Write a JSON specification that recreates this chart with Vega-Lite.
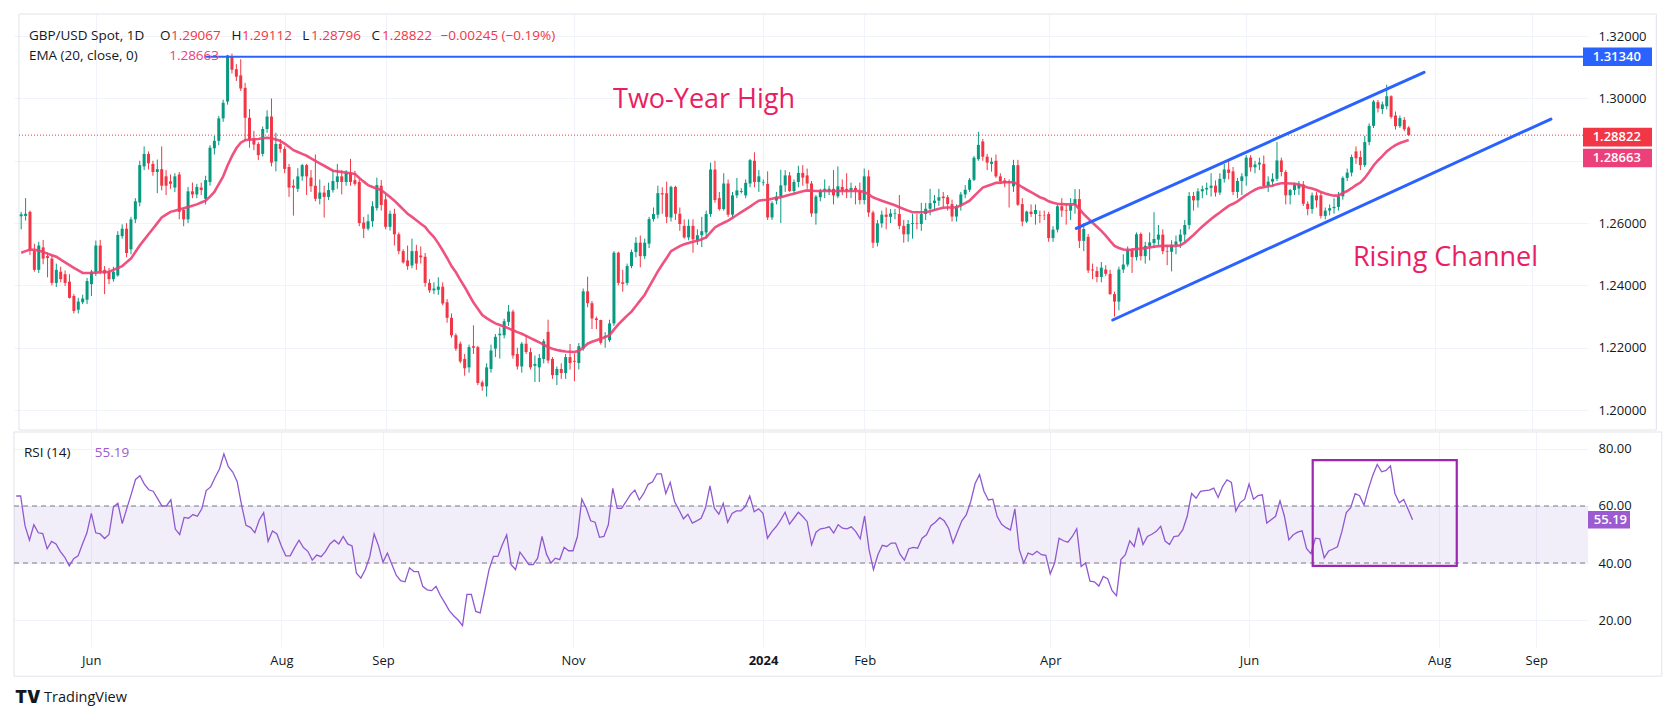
{
"$schema":"https://vega.github.io/schema/vega-lite/v6.json",
"background":"white",
"padding":{"left":13,"top":13,"right":0,"bottom":0},
"spacing":0,
"config":{"view":{"stroke":null},"font":"Open Sans","text":{"font":"Open Sans"},"axis":{"labelFont":"Open Sans","labelColor":"#131722"}},
"datasets":{"c":[
{"i":0,"o":1.2622,"h":1.2636,"l":1.2580,"c":1.2628,"e":1.2505,"r":63.5},
{"i":1,"o":1.2623,"h":1.2680,"l":1.2608,"c":1.2630,"e":1.2510,"r":63.5},
{"i":2,"o":1.2636,"h":1.2640,"l":1.2498,"c":1.2516,"e":1.2515,"r":53},
{"i":3,"o":1.2510,"h":1.2534,"l":1.2444,"c":1.2450,"e":1.2514,"r":48},
{"i":4,"o":1.2450,"h":1.2540,"l":1.2440,"c":1.2528,"e":1.2512,"r":53.4},
{"i":5,"o":1.2522,"h":1.2546,"l":1.2468,"c":1.2486,"e":1.2507,"r":50.6},
{"i":6,"o":1.2494,"h":1.2506,"l":1.2426,"c":1.2488,"e":1.2502,"r":50.3},
{"i":7,"o":1.2486,"h":1.2496,"l":1.2400,"c":1.2408,"e":1.2497,"r":45},
{"i":8,"o":1.2408,"h":1.2470,"l":1.2395,"c":1.2450,"e":1.2492,"r":47.6},
{"i":9,"o":1.2444,"h":1.2460,"l":1.2410,"c":1.2420,"e":1.2483,"r":46.7},
{"i":10,"o":1.2436,"h":1.2448,"l":1.2398,"c":1.2408,"e":1.2474,"r":44},
{"i":11,"o":1.2412,"h":1.2436,"l":1.2358,"c":1.2360,"e":1.2465,"r":42},
{"i":12,"o":1.2366,"h":1.2372,"l":1.2310,"c":1.2318,"e":1.2456,"r":39},
{"i":13,"o":1.2322,"h":1.2360,"l":1.2310,"c":1.2348,"e":1.2448,"r":41.5},
{"i":14,"o":1.2346,"h":1.2370,"l":1.2340,"c":1.2358,"e":1.2440,"r":42.5},
{"i":15,"o":1.2354,"h":1.2424,"l":1.2340,"c":1.2414,"e":1.2440,"r":46.7},
{"i":16,"o":1.2404,"h":1.2450,"l":1.2366,"c":1.2444,"e":1.2440,"r":50.6},
{"i":17,"o":1.2444,"h":1.2544,"l":1.2430,"c":1.2528,"e":1.2441,"r":57.4},
{"i":18,"o":1.2528,"h":1.2546,"l":1.2436,"c":1.2444,"e":1.2442,"r":50.6},
{"i":19,"o":1.2450,"h":1.2462,"l":1.2372,"c":1.2438,"e":1.2443,"r":50.2},
{"i":20,"o":1.2444,"h":1.2456,"l":1.2404,"c":1.2420,"e":1.2444,"r":48.6},
{"i":21,"o":1.2420,"h":1.2460,"l":1.2412,"c":1.2444,"e":1.2450,"r":50},
{"i":22,"o":1.2432,"h":1.2574,"l":1.2428,"c":1.2562,"e":1.2456,"r":59.6},
{"i":23,"o":1.2558,"h":1.2596,"l":1.2550,"c":1.2582,"e":1.2462,"r":61},
{"i":24,"o":1.2582,"h":1.2600,"l":1.2490,"c":1.2504,"e":1.2474,"r":53.8},
{"i":25,"o":1.2516,"h":1.2620,"l":1.2500,"c":1.2612,"e":1.2486,"r":59},
{"i":26,"o":1.2612,"h":1.2680,"l":1.2600,"c":1.2670,"e":1.2507,"r":64},
{"i":27,"o":1.2666,"h":1.2800,"l":1.2654,"c":1.2786,"e":1.2528,"r":69.3},
{"i":28,"o":1.2782,"h":1.2846,"l":1.2770,"c":1.2822,"e":1.2546,"r":70.6},
{"i":29,"o":1.2822,"h":1.2830,"l":1.2772,"c":1.2792,"e":1.2564,"r":67.7},
{"i":30,"o":1.2790,"h":1.2800,"l":1.2752,"c":1.2764,"e":1.2582,"r":65.7},
{"i":31,"o":1.2764,"h":1.2804,"l":1.2696,"c":1.2773,"e":1.2600,"r":65.2},
{"i":32,"o":1.2773,"h":1.2846,"l":1.2705,"c":1.2720,"e":1.2618,"r":62.6},
{"i":33,"o":1.2750,"h":1.2770,"l":1.2690,"c":1.2720,"e":1.2627,"r":60},
{"i":34,"o":1.2734,"h":1.2756,"l":1.2710,"c":1.2726,"e":1.2636,"r":60},
{"i":35,"o":1.2714,"h":1.2760,"l":1.2700,"c":1.2750,"e":1.2640,"r":62.2},
{"i":36,"o":1.2756,"h":1.2764,"l":1.2612,"c":1.2636,"e":1.2644,"r":51.9},
{"i":37,"o":1.2642,"h":1.2648,"l":1.2590,"c":1.2612,"e":1.2648,"r":50},
{"i":38,"o":1.2612,"h":1.2716,"l":1.2600,"c":1.2702,"e":1.2652,"r":56},
{"i":39,"o":1.2702,"h":1.2730,"l":1.2680,"c":1.2692,"e":1.2656,"r":55.7},
{"i":40,"o":1.2692,"h":1.2726,"l":1.2680,"c":1.2716,"e":1.2660,"r":57},
{"i":41,"o":1.2714,"h":1.2730,"l":1.2690,"c":1.2706,"e":1.2666,"r":56.4},
{"i":42,"o":1.2678,"h":1.2752,"l":1.2660,"c":1.2738,"e":1.2672,"r":59},
{"i":43,"o":1.2732,"h":1.2850,"l":1.2720,"c":1.2842,"e":1.2685,"r":65.4},
{"i":44,"o":1.2840,"h":1.2880,"l":1.2820,"c":1.2864,"e":1.2700,"r":66.7},
{"i":45,"o":1.2864,"h":1.2944,"l":1.2850,"c":1.2936,"e":1.2725,"r":70},
{"i":46,"o":1.2936,"h":1.2996,"l":1.2925,"c":1.2986,"e":1.2750,"r":73},
{"i":47,"o":1.2990,"h":1.3140,"l":1.2980,"c":1.3138,"e":1.2785,"r":78.3},
{"i":48,"o":1.3134,"h":1.3144,"l":1.3080,"c":1.3092,"e":1.2815,"r":73.8},
{"i":49,"o":1.3094,"h":1.3110,"l":1.3056,"c":1.3070,"e":1.2840,"r":71.9},
{"i":50,"o":1.3074,"h":1.3126,"l":1.3024,"c":1.3032,"e":1.2858,"r":68.6},
{"i":51,"o":1.3034,"h":1.3050,"l":1.2864,"c":1.2938,"e":1.2866,"r":60.3},
{"i":52,"o":1.2938,"h":1.2966,"l":1.2842,"c":1.2866,"e":1.2868,"r":53.2},
{"i":53,"o":1.2870,"h":1.2896,"l":1.2834,"c":1.2852,"e":1.2869,"r":52.5},
{"i":54,"o":1.2854,"h":1.2860,"l":1.2802,"c":1.2818,"e":1.2870,"r":50.6},
{"i":55,"o":1.2822,"h":1.2910,"l":1.2814,"c":1.2902,"e":1.2872,"r":55.1},
{"i":56,"o":1.2902,"h":1.2962,"l":1.2890,"c":1.2942,"e":1.2874,"r":57.7},
{"i":57,"o":1.2942,"h":1.3000,"l":1.2782,"c":1.2794,"e":1.2872,"r":47.6},
{"i":58,"o":1.2798,"h":1.2890,"l":1.2766,"c":1.2854,"e":1.2868,"r":51.2},
{"i":59,"o":1.2854,"h":1.2870,"l":1.2826,"c":1.2838,"e":1.2864,"r":50.2},
{"i":60,"o":1.2838,"h":1.2846,"l":1.2760,"c":1.2774,"e":1.2855,"r":46},
{"i":61,"o":1.2780,"h":1.2790,"l":1.2684,"c":1.2714,"e":1.2845,"r":42.5},
{"i":62,"o":1.2720,"h":1.2740,"l":1.2624,"c":1.2714,"e":1.2834,"r":42.5},
{"i":63,"o":1.2710,"h":1.2776,"l":1.2700,"c":1.2750,"e":1.2828,"r":45.4},
{"i":64,"o":1.2750,"h":1.2790,"l":1.2736,"c":1.2786,"e":1.2822,"r":48},
{"i":65,"o":1.2786,"h":1.2790,"l":1.2690,"c":1.2750,"e":1.2816,"r":45.4},
{"i":66,"o":1.2746,"h":1.2770,"l":1.2700,"c":1.2718,"e":1.2808,"r":44.1},
{"i":67,"o":1.2720,"h":1.2820,"l":1.2670,"c":1.2678,"e":1.2800,"r":41},
{"i":68,"o":1.2678,"h":1.2740,"l":1.2660,"c":1.2698,"e":1.2792,"r":42.8},
{"i":69,"o":1.2698,"h":1.2720,"l":1.2618,"c":1.2684,"e":1.2784,"r":42.2},
{"i":70,"o":1.2684,"h":1.2730,"l":1.2674,"c":1.2706,"e":1.2776,"r":44.1},
{"i":71,"o":1.2706,"h":1.2770,"l":1.2698,"c":1.2735,"e":1.2768,"r":46.7},
{"i":72,"o":1.2732,"h":1.2790,"l":1.2710,"c":1.2750,"e":1.2766,"r":48},
{"i":73,"o":1.2750,"h":1.2770,"l":1.2692,"c":1.2732,"e":1.2764,"r":46.7},
{"i":74,"o":1.2732,"h":1.2770,"l":1.2720,"c":1.2762,"e":1.2762,"r":49.3},
{"i":75,"o":1.2762,"h":1.2806,"l":1.2720,"c":1.2732,"e":1.2760,"r":46.7},
{"i":76,"o":1.2738,"h":1.2768,"l":1.2720,"c":1.2726,"e":1.2758,"r":46},
{"i":77,"o":1.2732,"h":1.2740,"l":1.2590,"c":1.2600,"e":1.2745,"r":36.4},
{"i":78,"o":1.2602,"h":1.2620,"l":1.2552,"c":1.2582,"e":1.2733,"r":34.7},
{"i":79,"o":1.2582,"h":1.2628,"l":1.2576,"c":1.2606,"e":1.2722,"r":37.7},
{"i":80,"o":1.2606,"h":1.2670,"l":1.2588,"c":1.2654,"e":1.2716,"r":42.2},
{"i":81,"o":1.2648,"h":1.2746,"l":1.2640,"c":1.2722,"e":1.2711,"r":50.2},
{"i":82,"o":1.2720,"h":1.2738,"l":1.2640,"c":1.2658,"e":1.2706,"r":46},
{"i":83,"o":1.2676,"h":1.2690,"l":1.2580,"c":1.2588,"e":1.2695,"r":40.3},
{"i":84,"o":1.2588,"h":1.2640,"l":1.2576,"c":1.2630,"e":1.2684,"r":43.5},
{"i":85,"o":1.2630,"h":1.2646,"l":1.2528,"c":1.2564,"e":1.2672,"r":39.6},
{"i":86,"o":1.2564,"h":1.2570,"l":1.2500,"c":1.2510,"e":1.2658,"r":35.7},
{"i":87,"o":1.2510,"h":1.2516,"l":1.2470,"c":1.2474,"e":1.2644,"r":33.8},
{"i":88,"o":1.2480,"h":1.2528,"l":1.2450,"c":1.2462,"e":1.2630,"r":33.4},
{"i":89,"o":1.2464,"h":1.2550,"l":1.2455,"c":1.2510,"e":1.2620,"r":38.3},
{"i":90,"o":1.2510,"h":1.2530,"l":1.2450,"c":1.2470,"e":1.2609,"r":37},
{"i":91,"o":1.2496,"h":1.2525,"l":1.2470,"c":1.2490,"e":1.2598,"r":37},
{"i":92,"o":1.2492,"h":1.2504,"l":1.2396,"c":1.2408,"e":1.2588,"r":31.8},
{"i":93,"o":1.2408,"h":1.2420,"l":1.2376,"c":1.2384,"e":1.2570,"r":30.6},
{"i":94,"o":1.2384,"h":1.2410,"l":1.2372,"c":1.2390,"e":1.2555,"r":30.3},
{"i":95,"o":1.2386,"h":1.2426,"l":1.2370,"c":1.2396,"e":1.2535,"r":31.8},
{"i":96,"o":1.2396,"h":1.2410,"l":1.2336,"c":1.2342,"e":1.2512,"r":28.6},
{"i":97,"o":1.2346,"h":1.2356,"l":1.2280,"c":1.2296,"e":1.2488,"r":26},
{"i":98,"o":1.2296,"h":1.2310,"l":1.2232,"c":1.2240,"e":1.2462,"r":23.3},
{"i":99,"o":1.2240,"h":1.2246,"l":1.2190,"c":1.2197,"e":1.2442,"r":21.5},
{"i":100,"o":1.2213,"h":1.2220,"l":1.2150,"c":1.2156,"e":1.2418,"r":20},
{"i":101,"o":1.2164,"h":1.2180,"l":1.2110,"c":1.2134,"e":1.2395,"r":18},
{"i":102,"o":1.2137,"h":1.2210,"l":1.2120,"c":1.2202,"e":1.2370,"r":29},
{"i":103,"o":1.2205,"h":1.2272,"l":1.2180,"c":1.2200,"e":1.2345,"r":29},
{"i":104,"o":1.2202,"h":1.2206,"l":1.2080,"c":1.2087,"e":1.2325,"r":23},
{"i":105,"o":1.2089,"h":1.2095,"l":1.2062,"c":1.2076,"e":1.2305,"r":22.5},
{"i":106,"o":1.2076,"h":1.2150,"l":1.2043,"c":1.2137,"e":1.2295,"r":30},
{"i":107,"o":1.2132,"h":1.2210,"l":1.2120,"c":1.2191,"e":1.2286,"r":37.7},
{"i":108,"o":1.2197,"h":1.2244,"l":1.2170,"c":1.2235,"e":1.2278,"r":42.3},
{"i":109,"o":1.2240,"h":1.2265,"l":1.2165,"c":1.2245,"e":1.2273,"r":42.3},
{"i":110,"o":1.2240,"h":1.2293,"l":1.2230,"c":1.2285,"e":1.2268,"r":46.4},
{"i":111,"o":1.2283,"h":1.2337,"l":1.2270,"c":1.2316,"e":1.2262,"r":49.9},
{"i":112,"o":1.2316,"h":1.2322,"l":1.2165,"c":1.2175,"e":1.2256,"r":39.4},
{"i":113,"o":1.2180,"h":1.2200,"l":1.2130,"c":1.2140,"e":1.2250,"r":37.7},
{"i":114,"o":1.2140,"h":1.2218,"l":1.2120,"c":1.2213,"e":1.2245,"r":43.8},
{"i":115,"o":1.2213,"h":1.2240,"l":1.2180,"c":1.2186,"e":1.2238,"r":41.7},
{"i":116,"o":1.2186,"h":1.2200,"l":1.2130,"c":1.2137,"e":1.2231,"r":39.4},
{"i":117,"o":1.2142,"h":1.2175,"l":1.2090,"c":1.2148,"e":1.2224,"r":39.4},
{"i":118,"o":1.2137,"h":1.2180,"l":1.2090,"c":1.2167,"e":1.2217,"r":41.7},
{"i":119,"o":1.2164,"h":1.2228,"l":1.2150,"c":1.2221,"e":1.2210,"r":49.3},
{"i":120,"o":1.2251,"h":1.2290,"l":1.2150,"c":1.2159,"e":1.2202,"r":43.1},
{"i":121,"o":1.2164,"h":1.2170,"l":1.2100,"c":1.2112,"e":1.2197,"r":40},
{"i":122,"o":1.2112,"h":1.2140,"l":1.2080,"c":1.2132,"e":1.2193,"r":41.7},
{"i":123,"o":1.2132,"h":1.2150,"l":1.2100,"c":1.2119,"e":1.2190,"r":41.2},
{"i":124,"o":1.2119,"h":1.2180,"l":1.2100,"c":1.2170,"e":1.2188,"r":45.5},
{"i":125,"o":1.2170,"h":1.2212,"l":1.2130,"c":1.2151,"e":1.2187,"r":44.3},
{"i":126,"o":1.2158,"h":1.2180,"l":1.2093,"c":1.2155,"e":1.2186,"r":44.3},
{"i":127,"o":1.2151,"h":1.2215,"l":1.2130,"c":1.2205,"e":1.2190,"r":49.3},
{"i":128,"o":1.2197,"h":1.2390,"l":1.2190,"c":1.2381,"e":1.2200,"r":62.4},
{"i":129,"o":1.2381,"h":1.2428,"l":1.2330,"c":1.2343,"e":1.2213,"r":59.2},
{"i":130,"o":1.2343,"h":1.2350,"l":1.2260,"c":1.2294,"e":1.2219,"r":54.8},
{"i":131,"o":1.2294,"h":1.2300,"l":1.2260,"c":1.2289,"e":1.2224,"r":54.3},
{"i":132,"o":1.2289,"h":1.2290,"l":1.2210,"c":1.2216,"e":1.2229,"r":49},
{"i":133,"o":1.2235,"h":1.2250,"l":1.2200,"c":1.2238,"e":1.2234,"r":49.3},
{"i":134,"o":1.2224,"h":1.2290,"l":1.2218,"c":1.2278,"e":1.2240,"r":53.4},
{"i":135,"o":1.2278,"h":1.2510,"l":1.2270,"c":1.2505,"e":1.2258,"r":66.2},
{"i":136,"o":1.2505,"h":1.2508,"l":1.2400,"c":1.2408,"e":1.2275,"r":59.2},
{"i":137,"o":1.2410,"h":1.2450,"l":1.2380,"c":1.2405,"e":1.2289,"r":59.2},
{"i":138,"o":1.2408,"h":1.2470,"l":1.2400,"c":1.2462,"e":1.2303,"r":61.5},
{"i":139,"o":1.2462,"h":1.2515,"l":1.2455,"c":1.2507,"e":1.2316,"r":64},
{"i":140,"o":1.2507,"h":1.2555,"l":1.2490,"c":1.2537,"e":1.2334,"r":65.6},
{"i":141,"o":1.2537,"h":1.2560,"l":1.2458,"c":1.2494,"e":1.2352,"r":62.1},
{"i":142,"o":1.2494,"h":1.2550,"l":1.2485,"c":1.2537,"e":1.2370,"r":64.4},
{"i":143,"o":1.2534,"h":1.2620,"l":1.2520,"c":1.2613,"e":1.2395,"r":67.6},
{"i":144,"o":1.2613,"h":1.2650,"l":1.2605,"c":1.2629,"e":1.2420,"r":68.5},
{"i":145,"o":1.2627,"h":1.2720,"l":1.2615,"c":1.2696,"e":1.2445,"r":71.3},
{"i":146,"o":1.2696,"h":1.2715,"l":1.2630,"c":1.2692,"e":1.2467,"r":71.3},
{"i":147,"o":1.2696,"h":1.2733,"l":1.2600,"c":1.2620,"e":1.2488,"r":64.4},
{"i":148,"o":1.2618,"h":1.2720,"l":1.2605,"c":1.2716,"e":1.2510,"r":68.3},
{"i":149,"o":1.2716,"h":1.2720,"l":1.2610,"c":1.2630,"e":1.2518,"r":61.5},
{"i":150,"o":1.2630,"h":1.2650,"l":1.2575,"c":1.2597,"e":1.2526,"r":58.6},
{"i":151,"o":1.2591,"h":1.2612,"l":1.2550,"c":1.2554,"e":1.2532,"r":55.5},
{"i":152,"o":1.2554,"h":1.2612,"l":1.2545,"c":1.2591,"e":1.2536,"r":57.1},
{"i":153,"o":1.2591,"h":1.2612,"l":1.2505,"c":1.2548,"e":1.2540,"r":54},
{"i":154,"o":1.2545,"h":1.2580,"l":1.2530,"c":1.2561,"e":1.2543,"r":54.8},
{"i":155,"o":1.2561,"h":1.2620,"l":1.2523,"c":1.2574,"e":1.2548,"r":55.7},
{"i":156,"o":1.2570,"h":1.2640,"l":1.2550,"c":1.2629,"e":1.2554,"r":59.4},
{"i":157,"o":1.2629,"h":1.2794,"l":1.2620,"c":1.2772,"e":1.2570,"r":67.1},
{"i":158,"o":1.2772,"h":1.2800,"l":1.2665,"c":1.2674,"e":1.2586,"r":59.2},
{"i":159,"o":1.2680,"h":1.2700,"l":1.2640,"c":1.2645,"e":1.2594,"r":57.1},
{"i":160,"o":1.2645,"h":1.2760,"l":1.2640,"c":1.2727,"e":1.2601,"r":60.9},
{"i":161,"o":1.2727,"h":1.2740,"l":1.2620,"c":1.2627,"e":1.2608,"r":54.3},
{"i":162,"o":1.2627,"h":1.2700,"l":1.2617,"c":1.2689,"e":1.2617,"r":57.4},
{"i":163,"o":1.2689,"h":1.2745,"l":1.2680,"c":1.2705,"e":1.2626,"r":58.3},
{"i":164,"o":1.2700,"h":1.2712,"l":1.2695,"c":1.2703,"e":1.2635,"r":58.3},
{"i":165,"o":1.2689,"h":1.2740,"l":1.2680,"c":1.2729,"e":1.2644,"r":59.8},
{"i":166,"o":1.2727,"h":1.2806,"l":1.2715,"c":1.2802,"e":1.2653,"r":63.5},
{"i":167,"o":1.2800,"h":1.2827,"l":1.2715,"c":1.2732,"e":1.2663,"r":58},
{"i":168,"o":1.2732,"h":1.2770,"l":1.2700,"c":1.2750,"e":1.2672,"r":59},
{"i":169,"o":1.2730,"h":1.2740,"l":1.2720,"c":1.2732,"e":1.2674,"r":57.4},
{"i":170,"o":1.2726,"h":1.2766,"l":1.2610,"c":1.2618,"e":1.2675,"r":48.7},
{"i":171,"o":1.2618,"h":1.2670,"l":1.2610,"c":1.2664,"e":1.2678,"r":51},
{"i":172,"o":1.2672,"h":1.2700,"l":1.2660,"c":1.2685,"e":1.2681,"r":52.8},
{"i":173,"o":1.2685,"h":1.2771,"l":1.2600,"c":1.2721,"e":1.2683,"r":55.1},
{"i":174,"o":1.2721,"h":1.2770,"l":1.2700,"c":1.2753,"e":1.2687,"r":57.8},
{"i":175,"o":1.2753,"h":1.2764,"l":1.2700,"c":1.2703,"e":1.2691,"r":53.6},
{"i":176,"o":1.2703,"h":1.2740,"l":1.2695,"c":1.2732,"e":1.2694,"r":55.7},
{"i":177,"o":1.2732,"h":1.2784,"l":1.2715,"c":1.2761,"e":1.2698,"r":57.8},
{"i":178,"o":1.2761,"h":1.2786,"l":1.2720,"c":1.2746,"e":1.2702,"r":56.3},
{"i":179,"o":1.2753,"h":1.2775,"l":1.2710,"c":1.2727,"e":1.2705,"r":54.5},
{"i":180,"o":1.2727,"h":1.2735,"l":1.2620,"c":1.2631,"e":1.2704,"r":46.4},
{"i":181,"o":1.2631,"h":1.2690,"l":1.2595,"c":1.2685,"e":1.2703,"r":50.8},
{"i":182,"o":1.2683,"h":1.2710,"l":1.2670,"c":1.2703,"e":1.2703,"r":52},
{"i":183,"o":1.2703,"h":1.2740,"l":1.2680,"c":1.2710,"e":1.2703,"r":52.2},
{"i":184,"o":1.2703,"h":1.2720,"l":1.2690,"c":1.2710,"e":1.2703,"r":52.7},
{"i":185,"o":1.2710,"h":1.2770,"l":1.2660,"c":1.2689,"e":1.2703,"r":50.5},
{"i":186,"o":1.2686,"h":1.2782,"l":1.2680,"c":1.2718,"e":1.2703,"r":53.4},
{"i":187,"o":1.2716,"h":1.2740,"l":1.2690,"c":1.2705,"e":1.2703,"r":52.2},
{"i":188,"o":1.2710,"h":1.2760,"l":1.2680,"c":1.2706,"e":1.2703,"r":52},
{"i":189,"o":1.2705,"h":1.2730,"l":1.2680,"c":1.2713,"e":1.2703,"r":52.7},
{"i":190,"o":1.2713,"h":1.2720,"l":1.2660,"c":1.2705,"e":1.2703,"r":51},
{"i":191,"o":1.2702,"h":1.2730,"l":1.2660,"c":1.2674,"e":1.2703,"r":48.5},
{"i":192,"o":1.2674,"h":1.2775,"l":1.2660,"c":1.2750,"e":1.2700,"r":56.5},
{"i":193,"o":1.2750,"h":1.2770,"l":1.2620,"c":1.2634,"e":1.2692,"r":44.7},
{"i":194,"o":1.2634,"h":1.2640,"l":1.2520,"c":1.2537,"e":1.2683,"r":37.7},
{"i":195,"o":1.2537,"h":1.2610,"l":1.2525,"c":1.2599,"e":1.2677,"r":42.9},
{"i":196,"o":1.2599,"h":1.2640,"l":1.2585,"c":1.2627,"e":1.2672,"r":46.2},
{"i":197,"o":1.2627,"h":1.2650,"l":1.2580,"c":1.2620,"e":1.2667,"r":45.8},
{"i":198,"o":1.2620,"h":1.2645,"l":1.2600,"c":1.2631,"e":1.2662,"r":47},
{"i":199,"o":1.2629,"h":1.2645,"l":1.2612,"c":1.2631,"e":1.2657,"r":47},
{"i":200,"o":1.2629,"h":1.2690,"l":1.2580,"c":1.2591,"e":1.2651,"r":43.1},
{"i":201,"o":1.2591,"h":1.2610,"l":1.2537,"c":1.2564,"e":1.2645,"r":41},
{"i":202,"o":1.2564,"h":1.2610,"l":1.2540,"c":1.2597,"e":1.2640,"r":45},
{"i":203,"o":1.2597,"h":1.2630,"l":1.2550,"c":1.2600,"e":1.2635,"r":45.5},
{"i":204,"o":1.2600,"h":1.2629,"l":1.2580,"c":1.2598,"e":1.2635,"r":45.2},
{"i":205,"o":1.2597,"h":1.2665,"l":1.2575,"c":1.2629,"e":1.2635,"r":48.7},
{"i":206,"o":1.2629,"h":1.2665,"l":1.2610,"c":1.2646,"e":1.2635,"r":49.9},
{"i":207,"o":1.2646,"h":1.2710,"l":1.2625,"c":1.2664,"e":1.2638,"r":53.1},
{"i":208,"o":1.2664,"h":1.2690,"l":1.2640,"c":1.2672,"e":1.2642,"r":54.3},
{"i":209,"o":1.2672,"h":1.2710,"l":1.2655,"c":1.2683,"e":1.2646,"r":55.9},
{"i":210,"o":1.2685,"h":1.2700,"l":1.2650,"c":1.2680,"e":1.2649,"r":54.8},
{"i":211,"o":1.2683,"h":1.2690,"l":1.2640,"c":1.2661,"e":1.2650,"r":52.2},
{"i":212,"o":1.2661,"h":1.2675,"l":1.2605,"c":1.2621,"e":1.2650,"r":47},
{"i":213,"o":1.2621,"h":1.2660,"l":1.2605,"c":1.2654,"e":1.2651,"r":51},
{"i":214,"o":1.2654,"h":1.2700,"l":1.2640,"c":1.2692,"e":1.2657,"r":54.8},
{"i":215,"o":1.2692,"h":1.2722,"l":1.2680,"c":1.2707,"e":1.2664,"r":56.9},
{"i":216,"o":1.2707,"h":1.2745,"l":1.2700,"c":1.2739,"e":1.2672,"r":61.5},
{"i":217,"o":1.2739,"h":1.2815,"l":1.2735,"c":1.2810,"e":1.2686,"r":67.9},
{"i":218,"o":1.2805,"h":1.2893,"l":1.2800,"c":1.2851,"e":1.2700,"r":71},
{"i":219,"o":1.2862,"h":1.2870,"l":1.2800,"c":1.2813,"e":1.2714,"r":65.2},
{"i":220,"o":1.2813,"h":1.2822,"l":1.2770,"c":1.2794,"e":1.2719,"r":62.1},
{"i":221,"o":1.2790,"h":1.2810,"l":1.2765,"c":1.2797,"e":1.2724,"r":62.4},
{"i":222,"o":1.2800,"h":1.2820,"l":1.2745,"c":1.2750,"e":1.2729,"r":56.3},
{"i":223,"o":1.2750,"h":1.2760,"l":1.2725,"c":1.2735,"e":1.2730,"r":53.6},
{"i":224,"o":1.2737,"h":1.2745,"l":1.2715,"c":1.2729,"e":1.2731,"r":52.4},
{"i":225,"o":1.2732,"h":1.2740,"l":1.2650,"c":1.2729,"e":1.2731,"r":51.6},
{"i":226,"o":1.2718,"h":1.2803,"l":1.2700,"c":1.2786,"e":1.2732,"r":59},
{"i":227,"o":1.2786,"h":1.2803,"l":1.2655,"c":1.2659,"e":1.2724,"r":44.7},
{"i":228,"o":1.2661,"h":1.2680,"l":1.2590,"c":1.2605,"e":1.2715,"r":40},
{"i":229,"o":1.2605,"h":1.2640,"l":1.2600,"c":1.2637,"e":1.2707,"r":43.5},
{"i":230,"o":1.2637,"h":1.2660,"l":1.2620,"c":1.2629,"e":1.2699,"r":42.9},
{"i":231,"o":1.2629,"h":1.2660,"l":1.2595,"c":1.2642,"e":1.2691,"r":44.1},
{"i":232,"o":1.2626,"h":1.2640,"l":1.2600,"c":1.2624,"e":1.2683,"r":42.9},
{"i":233,"o":1.2625,"h":1.2640,"l":1.2610,"c":1.2624,"e":1.2678,"r":42.7},
{"i":234,"o":1.2629,"h":1.2636,"l":1.2540,"c":1.2552,"e":1.2670,"r":36.2},
{"i":235,"o":1.2552,"h":1.2590,"l":1.2540,"c":1.2579,"e":1.2665,"r":40},
{"i":236,"o":1.2579,"h":1.2660,"l":1.2570,"c":1.2654,"e":1.2662,"r":48.7},
{"i":237,"o":1.2654,"h":1.2680,"l":1.2620,"c":1.2640,"e":1.2661,"r":47.8},
{"i":238,"o":1.2642,"h":1.2660,"l":1.2595,"c":1.2640,"e":1.2660,"r":47.3},
{"i":239,"o":1.2640,"h":1.2680,"l":1.2610,"c":1.2659,"e":1.2660,"r":49.3},
{"i":240,"o":1.2659,"h":1.2709,"l":1.2630,"c":1.2677,"e":1.2660,"r":52},
{"i":241,"o":1.2677,"h":1.2709,"l":1.2520,"c":1.2543,"e":1.2645,"r":38.8},
{"i":242,"o":1.2543,"h":1.2600,"l":1.2510,"c":1.2581,"e":1.2629,"r":40},
{"i":243,"o":1.2556,"h":1.2565,"l":1.2440,"c":1.2448,"e":1.2615,"r":33.6},
{"i":244,"o":1.2451,"h":1.2470,"l":1.2420,"c":1.2448,"e":1.2601,"r":33.4},
{"i":245,"o":1.2446,"h":1.2460,"l":1.2410,"c":1.2427,"e":1.2588,"r":31.9},
{"i":246,"o":1.2427,"h":1.2475,"l":1.2410,"c":1.2457,"e":1.2575,"r":35.3},
{"i":247,"o":1.2451,"h":1.2465,"l":1.2430,"c":1.2437,"e":1.2560,"r":34.5},
{"i":248,"o":1.2437,"h":1.2450,"l":1.2370,"c":1.2372,"e":1.2543,"r":30.3},
{"i":249,"o":1.2372,"h":1.2380,"l":1.2300,"c":1.2348,"e":1.2527,"r":28.5},
{"i":250,"o":1.2348,"h":1.2460,"l":1.2320,"c":1.2451,"e":1.2520,"r":41.2},
{"i":251,"o":1.2451,"h":1.2500,"l":1.2440,"c":1.2467,"e":1.2515,"r":42.9},
{"i":252,"o":1.2467,"h":1.2525,"l":1.2460,"c":1.2513,"e":1.2514,"r":47.8},
{"i":253,"o":1.2513,"h":1.2520,"l":1.2440,"c":1.2491,"e":1.2515,"r":45.8},
{"i":254,"o":1.2491,"h":1.2570,"l":1.2480,"c":1.2564,"e":1.2517,"r":52.4},
{"i":255,"o":1.2565,"h":1.2570,"l":1.2480,"c":1.2494,"e":1.2518,"r":46.5},
{"i":256,"o":1.2494,"h":1.2540,"l":1.2470,"c":1.2527,"e":1.2520,"r":49.3},
{"i":257,"o":1.2527,"h":1.2570,"l":1.2480,"c":1.2538,"e":1.2522,"r":50.1},
{"i":258,"o":1.2536,"h":1.2635,"l":1.2520,"c":1.2549,"e":1.2524,"r":51.1},
{"i":259,"o":1.2547,"h":1.2594,"l":1.2530,"c":1.2563,"e":1.2526,"r":52.9},
{"i":260,"o":1.2563,"h":1.2580,"l":1.2500,"c":1.2510,"e":1.2527,"r":47.7},
{"i":261,"o":1.2510,"h":1.2530,"l":1.2465,"c":1.2508,"e":1.2527,"r":46.5},
{"i":262,"o":1.2508,"h":1.2545,"l":1.2445,"c":1.2530,"e":1.2527,"r":49.3},
{"i":263,"o":1.2530,"h":1.2560,"l":1.2500,"c":1.2541,"e":1.2527,"r":49.5},
{"i":264,"o":1.2541,"h":1.2580,"l":1.2520,"c":1.2563,"e":1.2529,"r":51.7},
{"i":265,"o":1.2563,"h":1.2610,"l":1.2540,"c":1.2594,"e":1.2537,"r":56.4},
{"i":266,"o":1.2594,"h":1.2700,"l":1.2580,"c":1.2687,"e":1.2550,"r":64.4},
{"i":267,"o":1.2687,"h":1.2700,"l":1.2640,"c":1.2673,"e":1.2562,"r":62.7},
{"i":268,"o":1.2673,"h":1.2712,"l":1.2650,"c":1.2702,"e":1.2576,"r":65.1},
{"i":269,"o":1.2702,"h":1.2720,"l":1.2680,"c":1.2709,"e":1.2589,"r":65.4},
{"i":270,"o":1.2708,"h":1.2730,"l":1.2690,"c":1.2713,"e":1.2601,"r":65.6},
{"i":271,"o":1.2713,"h":1.2760,"l":1.2685,"c":1.2720,"e":1.2613,"r":66.3},
{"i":272,"o":1.2720,"h":1.2737,"l":1.2685,"c":1.2698,"e":1.2624,"r":63},
{"i":273,"o":1.2698,"h":1.2760,"l":1.2690,"c":1.2742,"e":1.2634,"r":66.8},
{"i":274,"o":1.2742,"h":1.2790,"l":1.2730,"c":1.2772,"e":1.2645,"r":69.2},
{"i":275,"o":1.2772,"h":1.2800,"l":1.2740,"c":1.2761,"e":1.2655,"r":68.3},
{"i":276,"o":1.2766,"h":1.2780,"l":1.2690,"c":1.2700,"e":1.2662,"r":58.2},
{"i":277,"o":1.2700,"h":1.2745,"l":1.2680,"c":1.2735,"e":1.2670,"r":61.2},
{"i":278,"o":1.2735,"h":1.2760,"l":1.2690,"c":1.2750,"e":1.2680,"r":62.4},
{"i":279,"o":1.2750,"h":1.2818,"l":1.2720,"c":1.2810,"e":1.2690,"r":67.7},
{"i":280,"o":1.2810,"h":1.2818,"l":1.2765,"c":1.2779,"e":1.2699,"r":62.4},
{"i":281,"o":1.2779,"h":1.2800,"l":1.2760,"c":1.2788,"e":1.2707,"r":63.6},
{"i":282,"o":1.2788,"h":1.2810,"l":1.2770,"c":1.2794,"e":1.2713,"r":63.9},
{"i":283,"o":1.2790,"h":1.2817,"l":1.2715,"c":1.2719,"e":1.2715,"r":54},
{"i":284,"o":1.2719,"h":1.2750,"l":1.2700,"c":1.2733,"e":1.2718,"r":55.2},
{"i":285,"o":1.2733,"h":1.2760,"l":1.2720,"c":1.2742,"e":1.2720,"r":56.4},
{"i":286,"o":1.2742,"h":1.2860,"l":1.2735,"c":1.2801,"e":1.2725,"r":61.8},
{"i":287,"o":1.2801,"h":1.2810,"l":1.2750,"c":1.2764,"e":1.2728,"r":56.4},
{"i":288,"o":1.2764,"h":1.2770,"l":1.2660,"c":1.2689,"e":1.2728,"r":48.1},
{"i":289,"o":1.2689,"h":1.2710,"l":1.2660,"c":1.2706,"e":1.2727,"r":49.9},
{"i":290,"o":1.2706,"h":1.2730,"l":1.2690,"c":1.2722,"e":1.2726,"r":50.8},
{"i":291,"o":1.2711,"h":1.2735,"l":1.2690,"c":1.2724,"e":1.2724,"r":51.3},
{"i":292,"o":1.2724,"h":1.2735,"l":1.2655,"c":1.2662,"e":1.2719,"r":45.1},
{"i":293,"o":1.2662,"h":1.2670,"l":1.2625,"c":1.2645,"e":1.2714,"r":43.3},
{"i":294,"o":1.2645,"h":1.2698,"l":1.2630,"c":1.2689,"e":1.2711,"r":48.7},
{"i":295,"o":1.2689,"h":1.2700,"l":1.2650,"c":1.2673,"e":1.2706,"r":48.5},
{"i":296,"o":1.2689,"h":1.2700,"l":1.2615,"c":1.2623,"e":1.2700,"r":41.8},
{"i":297,"o":1.2623,"h":1.2650,"l":1.2612,"c":1.2640,"e":1.2695,"r":44.2},
{"i":298,"o":1.2640,"h":1.2660,"l":1.2625,"c":1.2648,"e":1.2691,"r":44.9},
{"i":299,"o":1.2648,"h":1.2680,"l":1.2630,"c":1.2652,"e":1.2688,"r":45.7},
{"i":300,"o":1.2652,"h":1.2700,"l":1.2640,"c":1.2686,"e":1.2689,"r":51},
{"i":301,"o":1.2686,"h":1.2750,"l":1.2675,"c":1.2745,"e":1.2696,"r":57.7},
{"i":302,"o":1.2745,"h":1.2775,"l":1.2735,"c":1.2762,"e":1.2703,"r":59.4},
{"i":303,"o":1.2762,"h":1.2820,"l":1.2750,"c":1.2812,"e":1.2712,"r":64.3},
{"i":304,"o":1.2830,"h":1.2846,"l":1.2790,"c":1.2808,"e":1.2722,"r":63.6},
{"i":305,"o":1.2812,"h":1.2832,"l":1.2770,"c":1.2786,"e":1.2730,"r":60.3},
{"i":306,"o":1.2786,"h":1.2880,"l":1.2780,"c":1.2860,"e":1.2745,"r":66},
{"i":307,"o":1.2860,"h":1.2920,"l":1.2850,"c":1.2912,"e":1.2764,"r":70.8},
{"i":308,"o":1.2912,"h":1.2995,"l":1.2905,"c":1.2990,"e":1.2785,"r":74.6},
{"i":309,"o":1.2988,"h":1.2995,"l":1.2955,"c":1.2968,"e":1.2801,"r":72},
{"i":310,"o":1.2966,"h":1.2990,"l":1.2950,"c":1.2981,"e":1.2815,"r":72.5},
{"i":311,"o":1.2975,"h":1.3044,"l":1.2965,"c":1.3007,"e":1.2830,"r":74.1},
{"i":312,"o":1.3007,"h":1.3010,"l":1.2935,"c":1.2941,"e":1.2841,"r":64.4},
{"i":313,"o":1.2945,"h":1.2958,"l":1.2900,"c":1.2911,"e":1.2850,"r":61.1},
{"i":314,"o":1.2911,"h":1.2945,"l":1.2905,"c":1.2937,"e":1.2857,"r":62.3},
{"i":315,"o":1.2931,"h":1.2940,"l":1.2895,"c":1.2901,"e":1.2862,"r":58.8},
{"i":316,"o":1.29067,"h":1.29112,"l":1.28796,"c":1.28822,"e":1.28663,"r":55.19}
]},
"vconcat":[
{
"width":1574,"height":416,
"encoding":{
 "x":{"type":"quantitative","title":null,"scale":{"domain":[-0.5,355.7],"nice":false,"zero":false},
   "axis":{"values":[17,60,83,126,169,192,234,279,322,344],"labels":false,"ticks":false,"domain":false,"grid":true,"gridColor":"#F0F3FA","title":null,"minExtent":0,"maxExtent":0}},
 "y":{"type":"quantitative","title":null,"scale":{"domain":[1.1936,1.3271],"nice":false,"zero":false},
   "axis":{"orient":"right","values":[1.2,1.22,1.24,1.26,1.28,1.3,1.32],"labelExpr":"abs(datum.value-1.28)<0.0001 ? '' : format(datum.value, '.5f')","grid":true,"gridColor":"#F0F3FA","domain":false,"ticks":false,"labelPadding":10,"labelFontSize":13,"labelColor":"#131722","title":null}}
},
"layer":[
{"data":{"values":[{"a":-0.5,"b":372.4,"p":1.3271,"q":1.1936}]},
 "mark":{"type":"rect","fillOpacity":0,"stroke":"#E0E3EB","strokeWidth":1},
 "encoding":{"x":{"field":"a","type":"quantitative","title":null},"x2":{"field":"b"},"y":{"field":"p","type":"quantitative","title":null},"y2":{"field":"q"}}},
{"data":{"name":"c"},"mark":{"type":"rule","strokeWidth":1},
 "encoding":{"x":{"field":"i","type":"quantitative","title":null},"y":{"field":"l","type":"quantitative","title":null},"y2":{"field":"h"},
  "color":{"condition":{"test":"datum.c >= datum.o","value":"#089981"},"value":"#F23645"}}},
{"data":{"name":"c"},"mark":{"type":"bar","size":3},
 "encoding":{"x":{"field":"i","type":"quantitative","title":null},"y":{"field":"o","type":"quantitative","title":null},"y2":{"field":"c"},
  "color":{"condition":{"test":"datum.c >= datum.o","value":"#089981"},"value":"#F23645"}}},
{"data":{"name":"c"},"mark":{"type":"line","color":"#EE3F72","strokeWidth":2.6,"opacity":0.9},
 "encoding":{"x":{"field":"i","type":"quantitative","title":null},"y":{"field":"e","type":"quantitative","title":null}}},
{"data":{"values":[{"a":-0.5,"b":355.7,"p":1.28822}]},"mark":{"type":"rule","color":"#F23645","strokeWidth":1,"strokeDash":[1,2]},
 "encoding":{"x":{"field":"a","type":"quantitative","title":null},"x2":{"field":"b"},"y":{"field":"p","type":"quantitative","title":null}}},
{"data":{"values":[{"a":41.8,"b":355.7,"p":1.3134}]},"mark":{"type":"rule","color":"#2962FF","strokeWidth":2},
 "encoding":{"x":{"field":"a","type":"quantitative","title":null},"x2":{"field":"b"},"y":{"field":"p","type":"quantitative","title":null}}},
{"data":{"values":[{"a":240.3,"p":1.2583,"b":319.5,"q":1.3084},{"a":248.6,"p":1.2289,"b":348.4,"q":1.2934}]},
 "mark":{"type":"rule","color":"#2962FF","strokeWidth":3,"strokeCap":"round"},
 "encoding":{"x":{"field":"a","type":"quantitative","title":null},"x2":{"field":"b"},"y":{"field":"p","type":"quantitative","title":null},"y2":{"field":"q"}}},
{"data":{"values":[{"v":"1.31340","p":1.3134,"k":"b"},{"v":"1.28822","p":1.2876,"k":"r"},{"v":"1.28663","p":1.2809,"k":"m"}]},
 "mark":{"type":"point","shape":"M0,-0.27H2V0.27H0Z","size":4761,"filled":true,"opacity":1,"strokeWidth":0},
 "encoding":{"x":{"datum":355.7,"type":"quantitative"},"y":{"field":"p","type":"quantitative","title":null},
  "color":{"field":"k","type":"nominal","scale":{"domain":["b","r","m"],"range":["#2962FF","#F23645","#EC407A"]},"legend":null}}},
{"data":{"values":[{"v":"1.31340","p":1.3134},{"v":"1.28822","p":1.2876},{"v":"1.28663","p":1.2809}]},
 "mark":{"type":"text","align":"left","baseline":"middle","color":"white","fontSize":13,"fontWeight":600},
 "encoding":{"x":{"datum":357.9,"type":"quantitative"},"y":{"field":"p","type":"quantitative","title":null},"text":{"field":"v"}}},
{"data":{"values":[{"t":"GBP/USD Spot, 1D","x":1.76,"p":1.3200},{"t":"O","x":31.6,"p":1.3200},{"t":"H","x":47.9,"p":1.3200},{"t":"L","x":64.0,"p":1.3200},{"t":"C","x":79.8,"p":1.3200},{"t":"EMA (20, close, 0)","x":1.76,"p":1.3136}]},
 "mark":{"type":"text","align":"left","baseline":"middle","color":"#131722","fontSize":13.5},
 "encoding":{"x":{"field":"x","type":"quantitative","title":null},"y":{"field":"p","type":"quantitative","title":null},"text":{"field":"t"}}},
{"data":{"values":[{"t":"1.29067","x":34.1,"p":1.3200},{"t":"1.29112","x":50.3,"p":1.3200},{"t":"1.28796","x":66.0,"p":1.3200},{"t":"1.28822","x":82.2,"p":1.3200},{"t":"−0.00245 (−0.19%)","x":95.5,"p":1.3200}]},
 "mark":{"type":"text","align":"left","baseline":"middle","color":"#F23645","fontSize":13.5},
 "encoding":{"x":{"field":"x","type":"quantitative","title":null},"y":{"field":"p","type":"quantitative","title":null},"text":{"field":"t"}}},
{"data":{"values":[{"t":"1.28663","x":33.7,"p":1.3136}]},
 "mark":{"type":"text","align":"left","baseline":"middle","color":"#EC407A","fontSize":13.5},
 "encoding":{"x":{"field":"x","type":"quantitative","title":null},"y":{"field":"p","type":"quantitative","title":null},"text":{"field":"t"}}},
{"data":{"values":[{"t":"Two-Year High","x":134.8,"p":1.2995},{"t":"Rising Channel","x":303.3,"p":1.2488}]},
 "mark":{"type":"text","align":"left","baseline":"middle","color":"#E91E63","fontSize":27},
 "encoding":{"x":{"field":"x","type":"quantitative","title":null},"y":{"field":"p","type":"quantitative","title":null},"text":{"field":"t"}}}
]
},
{
"width":1574,"height":215,
"encoding":{
 "x":{"type":"quantitative","title":null,"scale":{"domain":[-0.5,355.7],"nice":false,"zero":false},
   "axis":{"values":[17,60,83,126,169,192,234,279,322,344],
    "labelExpr":"datum.value==17||datum.value==279?'Jun':datum.value==60||datum.value==322?'Aug':datum.value==83||datum.value==344?'Sep':datum.value==126?'Nov':datum.value==169?'2024':datum.value==192?'Feb':datum.value==234?'Apr':''",
    "labelFontWeight":{"condition":{"test":"datum.value==169","value":"bold"},"value":"normal"},
    "labelFlush":false,"labelFontSize":13,"labelColor":"#131722","labelPadding":7,"ticks":false,"domain":false,"grid":true,"gridColor":"#F0F3FA","title":null}},
 "y":{"type":"quantitative","title":null,"scale":{"domain":[10.53,85.96],"nice":false,"zero":false},
   "axis":{"orient":"right","values":[20,40,60,80],"format":".2f","grid":true,"gridColor":"#F0F3FA","domain":false,"ticks":false,"labelPadding":10,"labelFontSize":13,"labelColor":"#131722","title":null}}
},
"layer":[
{"data":{"values":[{"a":-0.5,"b":372.4,"p":85.96,"q":0.3}]},
 "mark":{"type":"rect","fillOpacity":0,"stroke":"#E0E3EB","strokeWidth":1},
 "encoding":{"x":{"field":"a","type":"quantitative","title":null},"x2":{"field":"b"},"y":{"field":"p","type":"quantitative","title":null},"y2":{"field":"q"}}},
{"data":{"values":[{"a":-0.5,"b":355.7,"p":60,"q":40}]},"mark":{"type":"rect","color":"#7E57C2","opacity":0.1},
 "encoding":{"x":{"field":"a","type":"quantitative","title":null},"x2":{"field":"b"},"y":{"field":"p","type":"quantitative","title":null},"y2":{"field":"q"}}},
{"data":{"values":[{"a":-0.5,"b":355.7,"p":60},{"a":-0.5,"b":355.7,"p":40}]},"mark":{"type":"rule","color":"#787B86","strokeWidth":1,"strokeDash":[5,4]},
 "encoding":{"x":{"field":"a","type":"quantitative","title":null},"x2":{"field":"b"},"y":{"field":"p","type":"quantitative","title":null}}},
{"data":{"name":"c"},"mark":{"type":"line","color":"#9058D0","strokeWidth":1.3},
 "encoding":{"x":{"field":"i","type":"quantitative","title":null},"y":{"field":"r","type":"quantitative","title":null}}},
{"data":{"values":[{"a":293.4,"b":326,"p":76.1,"q":39}]},"mark":{"type":"rect","fillOpacity":0,"stroke":"#9C27B0","strokeWidth":2.2},
 "encoding":{"x":{"field":"a","type":"quantitative","title":null},"x2":{"field":"b"},"y":{"field":"p","type":"quantitative","title":null},"y2":{"field":"q"}}},
{"data":{"values":[{"v":"55.19","p":55.19}]},
 "mark":{"type":"point","shape":"M0,-0.42H2V0.42H0Z","size":1764,"filled":true,"opacity":1,"strokeWidth":0,"color":"#9C5BD0"},
 "encoding":{"x":{"datum":355.7,"type":"quantitative"},"y":{"field":"p","type":"quantitative","title":null}}},
{"data":{"values":[{"v":"55.19","p":55.19}]},
 "mark":{"type":"text","align":"left","baseline":"middle","color":"white","fontSize":13,"fontWeight":600},
 "encoding":{"x":{"datum":357.0,"type":"quantitative"},"y":{"field":"p","type":"quantitative","title":null},"text":{"field":"v"}}},
{"data":{"values":[{"t":"RSI (14)","x":1.76,"p":78.7}]},
 "mark":{"type":"text","align":"left","baseline":"middle","color":"#131722","fontSize":13.5},
 "encoding":{"x":{"field":"x","type":"quantitative","title":null},"y":{"field":"p","type":"quantitative","title":null},"text":{"field":"t"}}},
{"data":{"values":[{"t":"55.19","x":17.8,"p":78.7}]},
 "mark":{"type":"text","align":"left","baseline":"middle","color":"#9C5BD0","fontSize":13.5},
 "encoding":{"x":{"field":"x","type":"quantitative","title":null},"y":{"field":"p","type":"quantitative","title":null},"text":{"field":"t"}}},
{"data":{"values":[{"t":"TV","x":-0.2,"p":-7.4}]},
 "mark":{"type":"text","align":"left","baseline":"middle","color":"#131722","fontSize":17,"fontWeight":900,"font":"Inter"},
 "encoding":{"x":{"field":"x","type":"quantitative","title":null},"y":{"field":"p","type":"quantitative","title":null},"text":{"field":"t"}}},
{"data":{"values":[{"t":"TradingView","x":6.3,"p":-7.4}]},
 "mark":{"type":"text","align":"left","baseline":"middle","color":"#131722","fontSize":14.5},
 "encoding":{"x":{"field":"x","type":"quantitative","title":null},"y":{"field":"p","type":"quantitative","title":null},"text":{"field":"t"}}}
]
}
]
}
